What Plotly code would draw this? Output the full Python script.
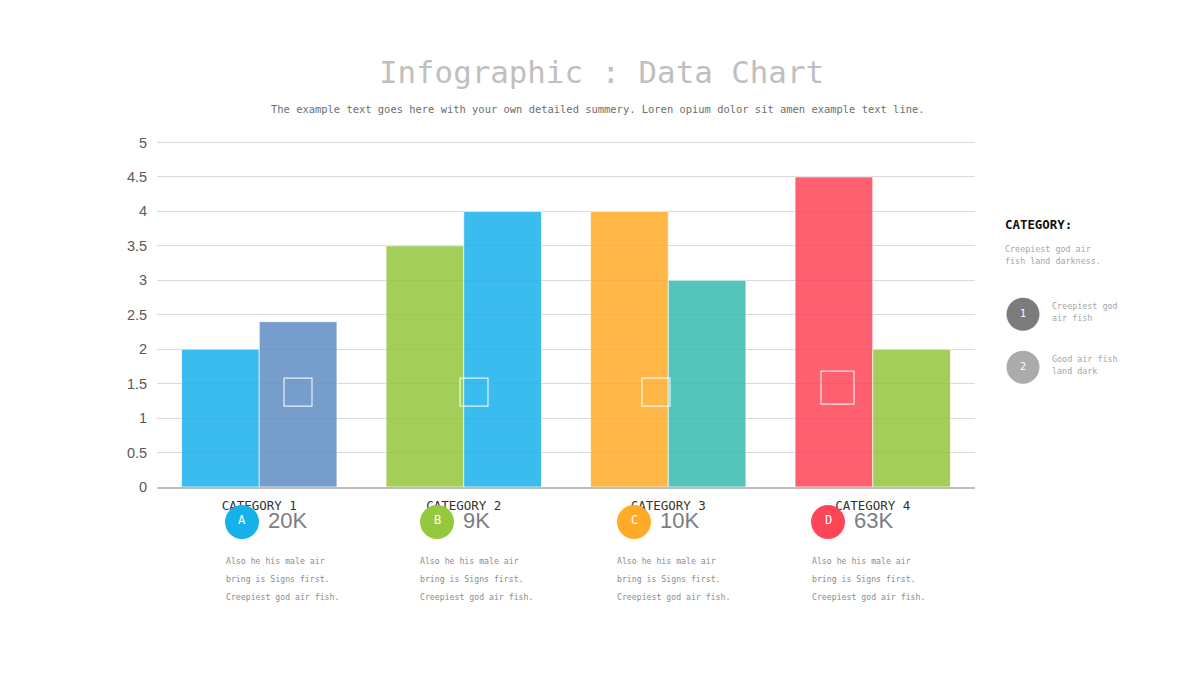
#!/usr/bin/env python3

import plotly.graph_objects as go

categories = ['CATEGORY 1', 'CATEGORY 2', 'CATEGORY 3', 'CATEGORY 4']
series_1 = [2, 3.5, 4, 4.5]
series_2 = [2.4, 4, 3, 2]
colors_1 = ['#1AB1EC', '#94C63D', '#FFAC28', '#FF4558']
colors_2 = ['#608DC4', '#1AB1EC', '#38BCAF', '#94C63D']

tick_values = [0, 0.5, 1, 1.5, 2, 2.5, 3, 3.5, 4, 4.5, 5]
tick_labels = ['0', '0.5', '1', '1.5', '2', '2.5', '3', '3.5', '4', '4.5', '5']

badge_letters = ['A', 'B', 'C', 'D']
badge_values = ['20K', '9K', '10K', '63K']
badge_colors = ['#16B1E9', '#94C83D', '#FFAB27', '#FF4558']
badge_x = [242, 437, 634, 828]
value_x = [268, 463, 660, 854]
blurb_x = [226, 420, 617, 812]
blurb_lines = ['Also he his male air', 'bring is Signs first.', 'Creepiest god air fish.']

# white outline squares sitting on the bars: left, top, size
squares = [(284, 378, 28), (460, 378, 28), (642, 378, 28), (821, 371, 33)]

side_labels = ['1', '2']
side_colors = ['#7C7C7C', '#ABABAB']
side_text = [['Creepiest god', 'air fish'], ['Good air fish', 'land dark']]
side_y = [314, 367]

MONO = 'DejaVu Sans Mono, Liberation Mono, monospace'
SANS = 'Liberation Sans, Arial, sans-serif'
# the page body has an 8px margin, so the figure is 16px smaller and everything moves up-left by 8
WIDTH, HEIGHT = 1184, 659
LEFT, RIGHT, TOP, BOTTOM = 157, 975, 140.5, 487
PAGE_PAD = 8
# plotly drops gridlines within 1px of the plot edge, so the range has to run a bit past 5
Y_TOP = 5.0217


def px(x):
    return (x - LEFT) / (RIGHT - LEFT)


def py(y):
    return (BOTTOM - y) / (BOTTOM - TOP)


def label(x, y, text, size, color, anchor='left', family=MONO):
    return dict(x=px(x), y=py(y), xref='paper', yref='paper', text=text,
                showarrow=False, xanchor=anchor, yanchor='middle', align=anchor,
                xshift=-2 if anchor == 'left' else 0, font=dict(family=family, size=size, color=color))


def circle(cx, cy, r, color):
    return dict(type='circle', xref='paper', yref='paper', layer='above',
                x0=px(cx - r), x1=px(cx + r), y0=py(cy + r), y1=py(cy - r),
                fillcolor=color, line=dict(width=0))


bar_line = dict(color='rgba(255,255,255,0.7)', width=1)
fig = go.Figure()
fig.add_bar(x=categories, y=series_1, marker=dict(color=colors_1, opacity=0.85, line=bar_line))
fig.add_bar(x=categories, y=series_2, marker=dict(color=colors_2, opacity=0.85, line=bar_line))

shapes = []
annotations = [
    label(601, 71, 'Infographic : Data Chart', 30.8, '#BFBFBF', 'center'),
    label(598, 108, 'The example text goes here with your own detailed summery. '
          'Loren opium dolor sit amen example text line.', 10.45, '#6E6E6E', 'center'),
    label(1005, 224, '<b>CATEGORY:</b>', 12.4, '#111111'),
    label(1005, 249, 'Creepiest god air', 8.4, '#A6A6A6'),
    label(1005, 261, 'fish land darkness.', 8.4, '#A6A6A6'),
]

for left, top, size in squares:
    shapes.append(dict(type='rect', xref='paper', yref='paper', layer='above',
                       x0=px(left), x1=px(left + size), y0=py(top + size), y1=py(top),
                       fillcolor='rgba(0,0,0,0)', line=dict(color='rgba(255,255,255,0.85)', width=1.2)))

for i in range(4):
    shapes.append(circle(badge_x[i], 522, 17, badge_colors[i]))
    annotations.append(label(badge_x[i], 520, badge_letters[i], 12, '#FFFFFF', 'center'))
    annotations.append(label(value_x[i], 521, badge_values[i], 22, '#7A7D83', family=SANS))
    for j, line in enumerate(blurb_lines):
        annotations.append(label(blurb_x[i], 561 + 18 * j, line, 8.2, '#8C8C8C'))

for i in range(2):
    shapes.append(circle(1023, side_y[i], 16.5, side_colors[i]))
    annotations.append(label(1023, side_y[i] - 1, side_labels[i], 10, '#FFFFFF', 'center'))
    for j, line in enumerate(side_text[i]):
        annotations.append(label(1052, side_y[i] - 8 + 12 * j, line, 8.4, '#A6A6A6'))

fig.update_layout(
    width=WIDTH,
    height=HEIGHT,
    margin=dict(l=LEFT - PAGE_PAD, r=WIDTH - (RIGHT - PAGE_PAD), t=TOP - PAGE_PAD,
                b=HEIGHT - (BOTTOM - PAGE_PAD), autoexpand=False),
    paper_bgcolor='white',
    plot_bgcolor='white',
    barmode='group',
    bargap=0.24,
    bargroupgap=0,
    showlegend=False,
    shapes=shapes,
    annotations=annotations,
)
fig.update_xaxes(type='category', showgrid=False, showline=True, linecolor='#BDBDBD', linewidth=2,
                 ticks='outside', ticklen=6, tickcolor='rgba(0,0,0,0)',
                 tickfont=dict(family=MONO, size=12.5, color='#333333'))
fig.update_yaxes(range=[0, Y_TOP], tickvals=tick_values, ticktext=tick_labels, showgrid=True,
                 gridcolor='#D9D9D9', gridwidth=1, zeroline=False, ticks='outside', ticklen=6,
                 tickcolor='rgba(0,0,0,0)', tickfont=dict(family=SANS, size=14.5, color='#595959'))

fig.write_html('out.html')
